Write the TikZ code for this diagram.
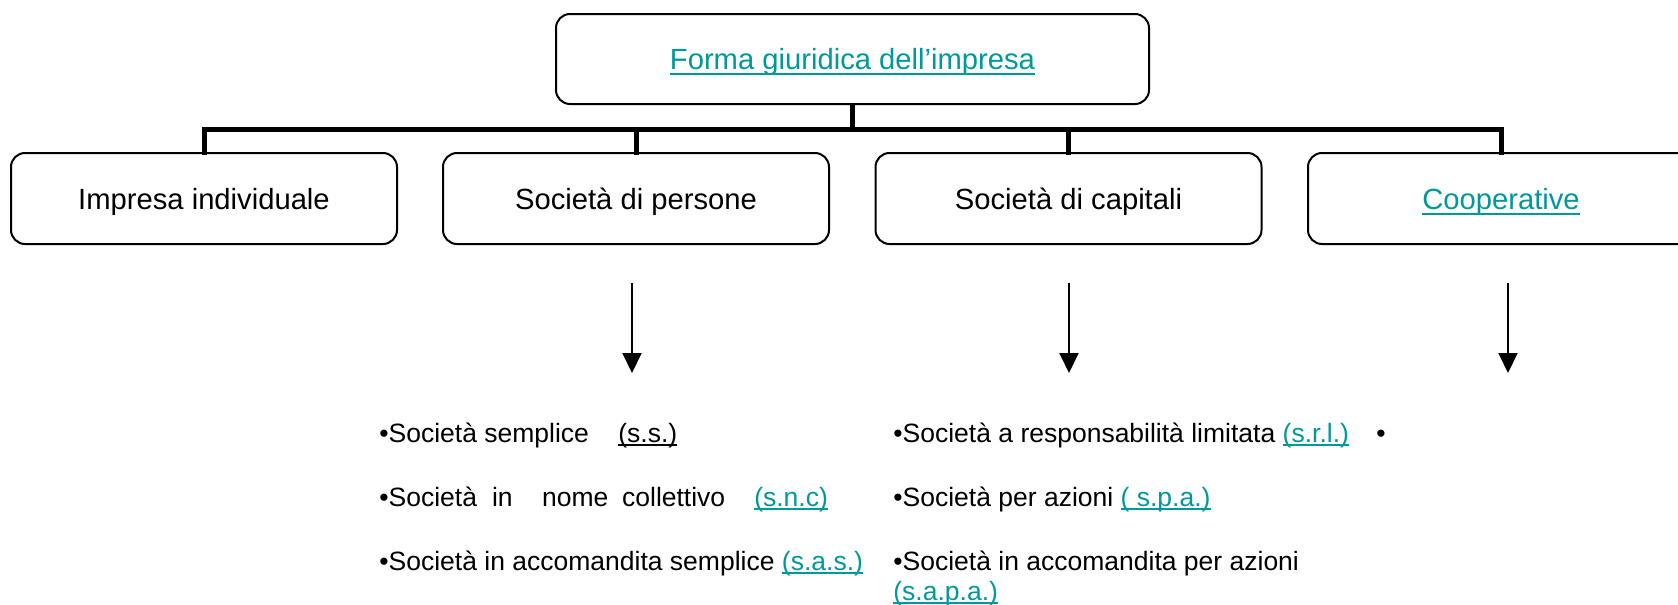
\documentclass[tikz,border=0pt]{standalone}
\usepackage{fontspec}
\setmainfont{Liberation Sans}
\usetikzlibrary{arrows.meta}
\definecolor{linkteal}{RGB}{0,153,153}
\newcommand{\ulink}[2]{\setbox0\hbox{#2}\rlap{\rule[-#1]{\wd0}{1pt}}\box0}
\tikzset{
  boxnode/.style={draw=black, line width=1pt, rounded corners=7pt, fill=white,
    minimum width=193pt, minimum height=45.5pt, inner sep=0pt,
    text height=10.5pt, text depth=0pt,
    font=\fontsize{14.6}{17.5}\selectfont},
  bar/.style={line width=2.5pt, line join=miter, line cap=rect},
  arr/.style={line width=1pt, -{Triangle[width=9.5pt,length=10pt]}},
  listtext/.style={anchor=base west, inner sep=0pt, font=\fontsize{13.25}{15.2}\selectfont},
}
\begin{document}
\begin{tikzpicture}[x=0.5pt,y=-0.5pt]
\clip (0,0) rectangle (1678,605);
\fill[white] (0,0) rectangle (1678,605);
% top box
\node[boxnode, minimum width=296.5pt, minimum height=45pt] (top) at (852.5,59)
  {\color{linkteal}\ulink{2.5pt}{Forma giuridica dell’impresa}};
% second row
\node[boxnode] (b1) at (204,198.5) {Impresa individuale};
\node[boxnode] (b2) at (636,198.5) {Società di persone};
\node[boxnode] (b3) at (1068.5,198.5) {Società di capitali};
\node[boxnode] (b4) at (1501,198.5) {\color{linkteal}\ulink{3pt}{Cooperative}};
% bus
\coordinate (bus) at (0,129.5);
\draw[bar] (top.south) -- (top.south|-bus);
\draw[bar] (b1.north) -- (b1.north|-bus) -- (b4.north|-bus) -- (b4.north);
\draw[bar] (b2.north) -- (b2.north|-bus);
\draw[bar] (b3.north) -- (b3.north|-bus);
% arrows
\coordinate (a1s) at (632,283);  \coordinate (a1e) at (632,373);
\coordinate (a2s) at (1069,283); \coordinate (a2e) at (1069,373);
\coordinate (a3s) at (1508,283); \coordinate (a3e) at (1508,373);
\draw[arr] (a1s) -- (a1e);
\draw[arr] (a2s) -- (a2e);
\draw[arr] (a3s) -- (a3e);
% left list
\node[listtext] (l1) at (379,442) {•Società semplice\hspace{14.7pt}\ulink{2pt}{(s.s.)}};
\node[listtext] (l2) at (379,506) {•Società\hspace{7.5pt}in\hspace{14.7pt}nome\hspace{6.9pt}collettivo\hspace{14.5pt}{\color{linkteal}\ulink{2pt}{(s.n.c)}}};
\node[listtext] (l3) at (379,570) {•Società in accomandita semplice {\color{linkteal}\ulink{2pt}{(s.a.s.)}}};
% right list
\node[listtext] (r1) at (893,442) {•Società a responsabilità limitata {\color{linkteal}\ulink{2pt}{(s.r.l.)}}};
\node[listtext] (r2) at (893,506) {•Società per azioni {\color{linkteal}\ulink{2pt}{( s.p.a.)}}};
\node[listtext] (r3) at (893,570) {•Società in accomandita per azioni};
\node[listtext] (r4) at (893,600.5) {\color{linkteal}\ulink{1.5pt}{(s.a.p.a.)}};
% lone bullet
\node[listtext, anchor=base] (c1) at (1381,442) {•};
\end{tikzpicture}
\end{document}
